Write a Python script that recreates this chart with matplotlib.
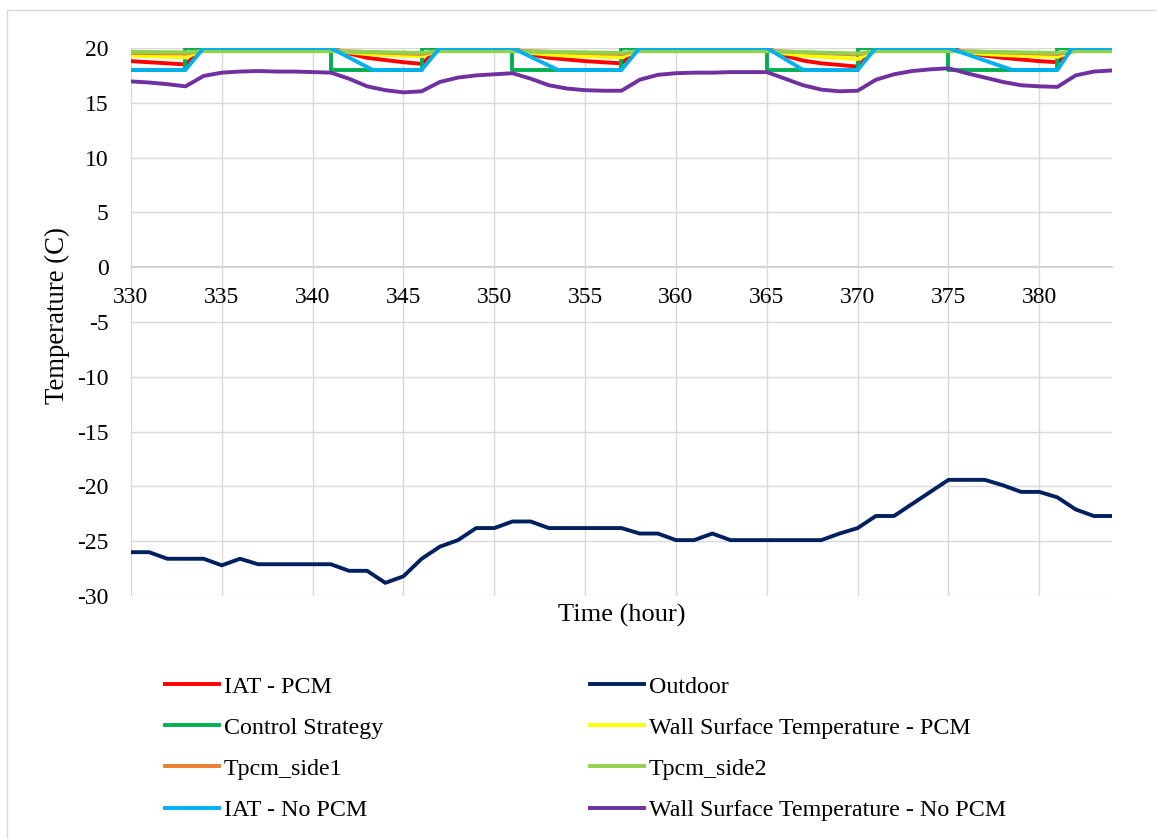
# Indoor / wall / outdoor temperatures, hours 330-384
import numpy as np
import matplotlib.pyplot as plt
from matplotlib.patches import Rectangle

plt.rcParams['font.family'] = ['Liberation Serif', 'DejaVu Serif']
plt.rcParams['axes.unicode_minus'] = False

# hourly time axis
hours = list(range(330, 385))

# Outdoor temperature (hourly)
outdoor = [-26.0, -26.0, -26.6, -26.6, -26.6, -27.2, -26.6, -27.1, -27.1, -27.1,
           -27.1, -27.1, -27.7, -27.7, -28.8, -28.2, -26.6, -25.5, -24.9, -23.8,
           -23.8, -23.2, -23.2, -23.8, -23.8, -23.8, -23.8, -23.8, -24.3, -24.3,
           -24.9, -24.9, -24.3, -24.9, -24.9, -24.9, -24.9, -24.9, -24.9, -24.3,
           -23.8, -22.7, -22.7, -21.6, -20.5, -19.4, -19.4, -19.4, -19.9, -20.5,
           -20.5, -21.0, -22.1, -22.7, -22.7]

# IAT - PCM (hourly)
iat_pcm = [18.8, 18.7, 18.6, 18.5,
           20, 20, 20, 20, 20, 20, 20, 20,
           19.5, 19.1, 18.9, 18.7, 18.55,
           20, 20, 20, 20, 20,
           19.4, 19.1, 18.95, 18.8, 18.7, 18.6,
           20, 20, 20, 20, 20, 20, 20, 20,
           19.3, 18.85, 18.6, 18.45, 18.3,
           20, 20, 20, 20, 20,
           19.6, 19.3, 19.1, 18.95, 18.8, 18.7,
           20, 20, 20]

# Wall Surface Temperature - PCM (hourly)
wall_pcm = [19.3, 19.25, 19.2, 19.15,
            19.8, 19.85, 19.85, 19.85, 19.85, 19.85, 19.85, 19.85,
            19.6, 19.45, 19.35, 19.3, 19.25,
            19.8, 19.85, 19.85, 19.85, 19.85,
            19.55, 19.4, 19.3, 19.25, 19.2, 19.15,
            19.8, 19.85, 19.85, 19.85, 19.85, 19.85, 19.85, 19.85,
            19.5, 19.3, 19.2, 19.1, 19.0,
            19.8, 19.85, 19.85, 19.85, 19.85,
            19.6, 19.45, 19.35, 19.3, 19.25, 19.2,
            19.8, 19.85, 19.85]

# Wall Surface Temperature - No PCM (hourly)
wall_nopcm = [16.95, 16.85, 16.7, 16.5, 17.45, 17.75, 17.85, 17.9, 17.85, 17.85,
              17.8, 17.75, 17.2, 16.5, 16.15, 15.95, 16.05, 16.9, 17.3, 17.5,
              17.6, 17.7, 17.2, 16.6, 16.3, 16.15, 16.1, 16.1, 17.1, 17.55,
              17.7, 17.75, 17.75, 17.8, 17.8, 17.8, 17.2, 16.6, 16.2, 16.05,
              16.1, 17.1, 17.6, 17.9, 18.05, 18.15, 17.7, 17.3, 16.9, 16.6,
              16.5, 16.45, 17.5, 17.85, 17.95]

# Control strategy (set point steps)
ctrl_t = [330, 333, 333, 341, 341, 346, 346, 351, 351, 357, 357, 365, 365,
          370, 370, 375, 375, 381, 381, 384]
ctrl = [18, 18, 20, 20, 18, 18, 20, 20, 18, 18, 20, 20, 18, 18, 20, 20,
        18, 18, 20, 20]

# IAT - No PCM
iat_np_t = [330, 333, 334, 341, 343.3, 346, 347, 351, 353.5, 357, 358, 365,
            367, 370, 371, 375, 378.5, 381, 381.8, 384]
iat_nopcm = [18, 18, 20, 20, 18, 18, 20, 20, 18, 18, 20, 20, 18, 18, 20, 20,
             18, 18, 20, 20]

# PCM side temperatures
pcm_t = [330, 333, 334, 341, 346, 347, 351, 357, 358, 365, 370, 371, 375,
         381, 382, 384]
tpcm1 = [19.55, 19.5, 19.75, 19.75, 19.45, 19.75, 19.75, 19.45, 19.75, 19.75,
         19.4, 19.75, 19.75, 19.45, 19.75, 19.75]
tpcm2 = [19.65, 19.6, 19.7, 19.7, 19.55, 19.7, 19.7, 19.55, 19.7, 19.7,
         19.5, 19.7, 19.7, 19.55, 19.7, 19.7]

fig = plt.figure(figsize=(11.57, 8.39), dpi=100)
ax = fig.add_axes([0.1132, 0.2896, 0.9611 - 0.1132, 0.9428 - 0.2896])

lw = 2.8
l1, = ax.plot(hours, iat_pcm, color='#FF0000', lw=lw, label='IAT - PCM')
l2, = ax.plot(hours, outdoor, color='#002060', lw=lw, label='Outdoor')
l3, = ax.plot(ctrl_t, ctrl, color='#00B050', lw=lw, label='Control Strategy')
l4, = ax.plot(hours, wall_pcm, color='#FFFF00', lw=lw,
              label='Wall Surface Temperature - PCM')
l5, = ax.plot(pcm_t, tpcm1, color='#ED7D31', lw=lw, label='Tpcm_side1')
l6, = ax.plot(pcm_t, tpcm2, color='#92D050', lw=lw, label='Tpcm_side2')
l7, = ax.plot(iat_np_t, iat_nopcm, color='#00B0F0', lw=lw, label='IAT - No PCM')
l8, = ax.plot(hours, wall_nopcm, color='#7030A0', lw=lw,
              label='Wall Surface Temperature - No PCM')

ax.set_xlim(330, 384)
ax.set_ylim(-30, 20)
ax.set_xticks(np.arange(330, 381, 5))
ax.set_yticks(np.arange(-30, 21, 5))
ax.grid(True, color='#D9D9D9', lw=1.0)
ax.set_axisbelow(True)
for s in ['left', 'right', 'top']:
    ax.spines[s].set_visible(False)
ax.spines['bottom'].set_position(('data', 0))
ax.spines['bottom'].set_color('#BFBFBF')
ax.spines['bottom'].set_linewidth(1.2)
ax.spines['bottom'].set_zorder(0.5)
ax.tick_params(axis='both', length=0, labelsize=17)
ax.tick_params(axis='x', pad=14)
ax.tick_params(axis='y', pad=16)

fig.text(622 / 1157, 1 - 615 / 839, 'Time (hour)', fontsize=19,
         ha='center', va='center')
fig.text(57 / 1157, 1 - 316 / 839, 'Temperature (C)', fontsize=19.3,
         ha='center', va='center', rotation=90)

# legend in two columns, row-wise order as in the original
leg_kw = dict(frameon=False, fontsize=17.3, handlelength=2.25, handletextpad=0.2,
              labelspacing=0.8, borderpad=0, borderaxespad=0, loc='upper left')
fig.legend([l1, l3, l5, l7], [h.get_label() for h in [l1, l3, l5, l7]],
           bbox_to_anchor=(165 / 1157, 1 - 676 / 839), **leg_kw)
fig.legend([l2, l4, l6, l8], [h.get_label() for h in [l2, l4, l6, l8]],
           bbox_to_anchor=(590 / 1157, 1 - 676 / 839), **leg_kw)

# chart border
fig.add_artist(Rectangle((7 / 1157, -0.1), 1.2, 1.1 - 10 / 839,
                         transform=fig.transFigure, fill=False,
                         edgecolor='#D9D9D9', lw=1.0))

plt.savefig('out.png', dpi=100)
